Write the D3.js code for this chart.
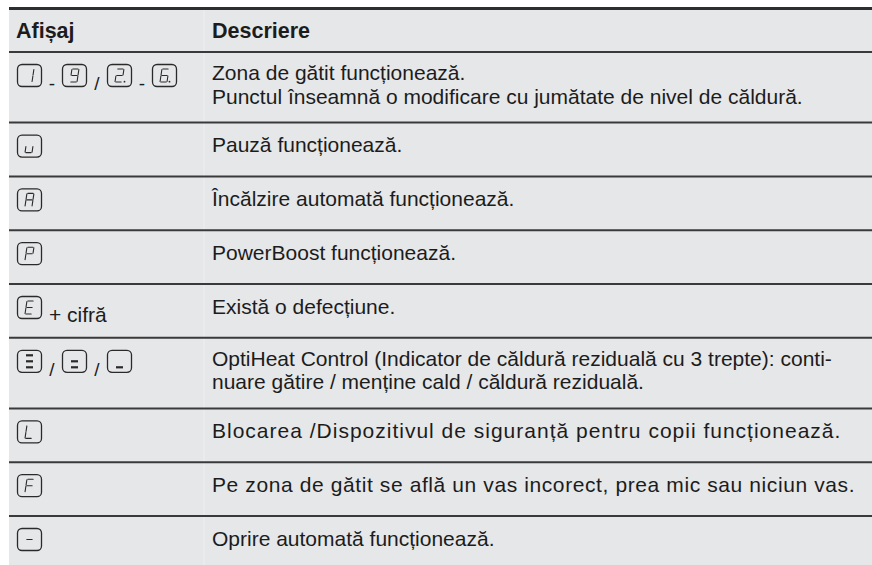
<!DOCTYPE html>
<html>
<head>
<meta charset="utf-8">
<script src="https://cdn.jsdelivr.net/npm/d3@7"></script>
<style>
  html, body { margin: 0; padding: 0; background: #ffffff; }
  svg { display: block; }
  text { font-family: "Liberation Sans", Arial, Helvetica, sans-serif; fill: #1c1c1c; }
</style>
</head>
<body>
<svg id="chart" width="872" height="565"></svg>
<script>
// ---------- DATA ----------
const headers = ["Afișaj", "Descriere"];

// display column: "box:X" = seven-segment display box, otherwise plain text separator
const displayTokens = [
  ["box:1", "-", "box:9", "/", "box:2.", "-", "box:6."],
  ["box:u"],
  ["box:A"],
  ["box:P"],
  ["box:E", "+ cifră"],
  ["box:bars3", "/", "box:bars2", "/", "box:bars1"],
  ["box:L"],
  ["box:F"],
  ["box:-"]
];

const descriptions = [
  ["Zona de gătit funcționează.", "Punctul înseamnă o modificare cu jumătate de nivel de căldură."],
  ["Pauză funcționează."],
  ["Încălzire automată funcționează."],
  ["PowerBoost funcționează."],
  ["Există o defecțiune."],
  ["OptiHeat Control (Indicator de căldură reziduală cu 3 trepte): conti-", "nuare gătire / menține cald / căldură reziduală."],
  ["Blocarea /Dispozitivul de siguranță pentru copii funcționează."],
  ["Pe zona de gătit se află un vas incorect, prea mic sau niciun vas."],
  ["Oprire automată funcționează."]
];

// seven segment definitions
const segMap = {
  "1": "bc", "9": "abcdfg", "2": "abged", "6": "afgedc", "u": "cde",
  "A": "abcefg", "P": "abefg", "E": "afged", "L": "fed", "F": "afge", "-": "g"
};
const barMap = { "bars3": "agd", "bars2": "gd", "bars1": "d" };

// ---------- LAYOUT / STYLE ----------
const W = 872, H = 565;
const left = 9, colSplit = 204;
const topLine = 8.5;
const headerH = 43.5;
const rowUnit = 53.8, extraLine = 16.8;
const lineGap = 23.5;
const looseRows = { 6: 1.0, 7: 0.6 };   // letter-spacing (px) for the wider-set lines
const svg = d3.select("#chart");

svg.append("rect").attr("x", left).attr("y", topLine).attr("width", W - left).attr("height", H - topLine)
  .attr("fill", "#e6e7e9");

const rowUnits = descriptions.map(d => rowUnit + extraLine * (d.length - 1));
const cum = [0];
rowUnits.forEach(u => cum.push(cum[cum.length - 1] + u));
const y = d3.scaleLinear().domain([0, 1]).range([topLine + headerH, topLine + headerH + 1]);

const x = d3.scaleOrdinal().domain(["display", "desc"]).range([17, 212]);

// faint column separator
svg.append("line").attr("x1", colSplit).attr("x2", colSplit).attr("y1", topLine).attr("y2", H)
  .attr("stroke", "#eeeff1").attr("stroke-width", 1);

// top rule
svg.append("line").attr("x1", left).attr("x2", W).attr("y1", topLine).attr("y2", topLine)
  .attr("stroke", "#2e2e2e").attr("stroke-width", 3);

// header
svg.selectAll("text.hdr").data(headers).enter().append("text")
  .attr("class", "hdr")
  .attr("x", (d, i) => i === 0 ? x("display") - 1 : x("desc"))
  .attr("y", topLine + 29.5)
  .attr("font-size", 21.5).attr("font-weight", "bold")
  .text(d => d);

// row separator lines
const sepYs = cum.slice(0, descriptions.length).map(c => y(c));
svg.selectAll("line.sep").data(sepYs).enter().append("line")
  .attr("class", "sep")
  .attr("x1", left).attr("x2", W).attr("y1", d => d).attr("y2", d => d)
  .attr("stroke", "#3a3a3a").attr("stroke-width", 2);

const rows = svg.selectAll("g.row").data(descriptions).enter().append("g")
  .attr("class", "row")
  .attr("transform", (d, i) => `translate(0,${y(cum[i])})`);

rows.each(function (lines, i) {
  const g = d3.select(this);
  const firstBase = lines.length > 1 ? 28 : 29.5;
  g.selectAll("text.desc").data(lines).enter().append("text")
    .attr("class", "desc")
    .attr("x", x("desc"))
    .attr("y", (d, j) => firstBase + j * lineGap)
    .attr("font-size", 21)
    .attr("letter-spacing", looseRows[i] || 0)
    .text(d => d);

  const boxW = 25, boxH = 23, sepW = 20, boxTop = 12;
  let cx = x("display");
  displayTokens[i].forEach(tok => {
    if (tok.startsWith("box:")) {
      const code = tok.slice(4);
      const bg = g.append("g").attr("transform", `translate(${cx},${boxTop})`);
      bg.append("rect").attr("x", 0.5).attr("y", 0.5).attr("width", boxW - 1).attr("height", boxH - 1)
        .attr("rx", 4.5).attr("ry", 4.5).attr("fill", "none").attr("stroke", "#2a2a2a").attr("stroke-width", 1.3);
      drawGlyph(bg, code, boxW, boxH);
      cx += boxW;
    } else if (tok === "-" || tok === "/") {
      g.append("text").attr("x", cx + sepW / 2).attr("y", boxTop + boxH + 3)
        .attr("text-anchor", "middle").attr("font-size", 19).text(tok);
      cx += sepW;
    } else {
      g.append("text").attr("x", cx + 7).attr("y", boxTop + boxH + 3)
        .attr("font-size", 21).text(tok);
    }
  });
});

function drawGlyph(g, code, bw, bh) {
  const line = d3.line();
  if (barMap[code]) {
    const segs = barMap[code];
    const bx0 = bw / 2 - 3.5, bx1 = bw / 2 + 3.5;
    const ys = { a: 5.5, g: bh / 2, d: bh - 5.5 };
    for (const s of segs) {
      g.append("path").attr("d", line([[bx0, ys[s]], [bx1, ys[s]]]))
        .attr("stroke", "#2a2a2a").attr("stroke-width", 2.2).attr("fill", "none");
    }
    return;
  }
  const hasDot = code.endsWith(".");
  const ch = hasDot ? code.slice(0, -1) : code;
  const segs = segMap[ch] || "";
  const gw = 7, gh = 13, slant = 0.15;
  const ox = bw / 2 - gw / 2 - 1, oy = (bh - gh) / 2;
  const P = (ux, uy) => {
    const yy = oy + uy * gh / 2;
    return [ox + ux * gw + (gh - uy * gh / 2) * slant, yy];
  };
  const defs = {
    a: [[0.12, 0], [0.88, 0]], b: [[1, 0.08], [1, 0.92]], c: [[1, 1.08], [1, 1.92]],
    d: [[0.12, 2], [0.88, 2]], e: [[0, 1.08], [0, 1.92]], f: [[0, 0.08], [0, 0.92]],
    g: [[0.12, 1], [0.88, 1]]
  };
  for (const s of segs) {
    const [p0, p1] = defs[s];
    g.append("path").attr("d", line([P(...p0), P(...p1)]))
      .attr("stroke", "#2a2a2a").attr("stroke-width", 1.1).attr("fill", "none")
      .attr("stroke-linecap", "round");
  }
  if (hasDot) {
    const p = P(1.35, 1.95);
    g.append("circle").attr("cx", p[0]).attr("cy", p[1]).attr("r", 0.9).attr("fill", "#2a2a2a");
  }
}
</script>
</body>
</html>
